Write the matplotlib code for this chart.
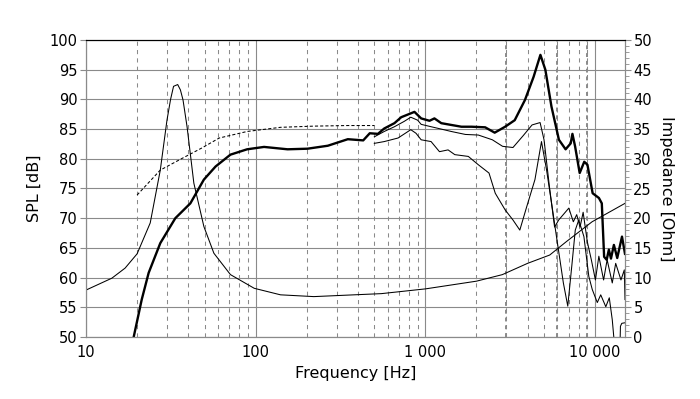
import matplotlib
matplotlib.use('Agg')
import matplotlib.pyplot as plt
from matplotlib.ticker import FixedLocator, NullFormatter, MultipleLocator, LogLocator

# impedance curve [Hz], [Ohm]
f_imp = [10, 14.2, 17, 20, 23.9, 27.4, 30, 31.5, 32.8, 34.7, 36, 37.3, 39.4, 43.2, 49.5, 56.7,
         71, 98, 140, 220, 380, 550, 1000, 2000, 2840, 4000, 5400, 6800, 9600, 15000]
z_imp = [7.9, 9.9, 11.6, 14.0, 19.2, 28.1, 36.5, 40.0, 42.2, 42.5, 41.6, 39.9, 35.4, 25.9, 18.6, 14.1,
         10.5, 8.2, 7.1, 6.8, 7.1, 7.3, 8.1, 9.4, 10.5, 12.4, 13.8, 16.1, 19.4, 22.5]

# simulated / near-field part (dashed)
f_dash = [20, 27.4, 37, 48, 61, 89, 140, 220, 349, 500]
spl_dash = [73.9, 78.1, 80.1, 81.8, 83.5, 84.6, 85.3, 85.5, 85.6, 85.6]

# on-axis SPL (thick)
f_main = [19.1, 21.3, 23.4, 27.4, 33.6, 41.2, 49.5, 58, 71, 89, 112, 154, 202, 266, 349, 430,
          470, 525, 572, 657, 720, 862, 944, 1057, 1130, 1240, 1420, 1630, 1870, 2250, 2560,
          2950, 3360, 3860, 4340, 4760, 5090, 5530, 6120, 6700, 7180, 7350, 7620, 8110, 8630,
          9010, 9670, 10530, 10950, 11300, 11700, 12050, 12400, 12900, 13500, 14400, 15000]
spl_main = [50, 56.3, 60.8, 65.8, 70.0, 72.5, 76.5, 78.7, 80.7, 81.6, 82.0, 81.6, 81.7, 82.2, 83.3, 83.1,
            84.3, 84.2, 85.1, 86.0, 87.0, 87.9, 86.8, 86.4, 86.8, 86.0, 85.7, 85.4, 85.4, 85.3, 84.4,
            85.4, 86.5, 89.9, 93.8, 97.5, 95.0, 88.8, 83.2, 81.6, 82.6, 84.2, 82.1, 77.6, 79.5,
            79.0, 74.2, 73.4, 72.5, 63.5, 63.0, 64.7, 63.2, 65.5, 63.3, 66.9, 64.0]

# off-axis curves (thin)
f_off1 = [500, 572, 657, 750, 820, 900, 944, 1080, 1240, 1420, 1720, 2050, 2480, 2850, 3280,
          3770, 4250, 4740, 5000, 5380, 5770, 6100, 7000, 7440, 7790, 8150, 8500, 9000, 9500,
          10040, 10520, 11220, 11770, 12620, 13220, 14200, 14860, 15000]
spl_off1 = [83.7, 84.6, 85.4, 86.3, 87.0, 86.5, 85.8, 85.4, 85.0, 84.6, 84.1, 84.0, 83.2, 82.1, 81.9,
            83.9, 85.7, 86.1, 83.2, 75.3, 68.5, 69.7, 71.7, 69.4, 70.6, 68.5, 71.0, 66.0, 63.0,
            59.6, 63.6, 59.6, 63.0, 59.1, 62.4, 59.6, 61.3, 56.3]

f_off2 = [500, 572, 690, 820, 880, 944, 1080, 1210, 1360, 1490, 1790, 2050, 2370, 2580, 2950,
          3280, 3600, 3950, 4420, 4830, 5170, 5540, 5920, 6500, 6900, 7290, 7640, 8010, 8590,
          9180, 9620, 10300, 10790, 11560, 12120, 12620, 12930, 13300, 14000, 14100, 14360, 15000]
spl_off2 = [82.6, 82.9, 83.5, 84.9, 84.3, 83.2, 82.9, 81.2, 81.5, 80.7, 80.4, 79.0, 77.6, 74.2, 71.4,
            69.7, 68.0, 71.9, 76.5, 82.9, 78.2, 72.5, 66.9, 59.1, 55.2, 62.0, 68.0, 69.7, 66.9,
            60.2, 58.0, 55.8, 57.1, 55.1, 56.6, 52.9, 49.5, 48.0, 48.0, 51.8, 52.3, 52.4]

x_ticks = [10, 100, 1000, 10000]
x_labels = ['10', '100', '1 000', '10 000']

plt.rcParams['font.family'] = 'DejaVu Sans'
grey = '#8a8a8a'

fig = plt.figure(figsize=(7, 3.99), dpi=100)
ax = fig.add_axes([86/700, 1 - 337/399, (625 - 86)/700, (337 - 40)/399])
ax.set_xscale('log')
ax.set_xlim(10, 15000)
ax.set_ylim(50, 100)

# grid
ax.xaxis.set_major_locator(FixedLocator(x_ticks))
ax.xaxis.set_minor_locator(LogLocator(base=10, subs=range(2, 10), numticks=20))
ax.xaxis.set_minor_formatter(NullFormatter())
ax.set_xticklabels(x_labels)
ax.yaxis.set_major_locator(MultipleLocator(5))
ax.grid(which='major', color=grey, lw=0.8, ls='-')
ax.grid(which='minor', axis='x', color=grey, lw=0.75, ls=(0, (4, 4)))
# these three grid lines are drawn heavier in the original
for f in [3000, 6000, 9000]:
    ax.axvline(f, color=grey, lw=1.4, ls=(0, (2, 2)), zorder=0.5)
ax.set_axisbelow(True)

ax.tick_params(axis='x', which='both', length=0, pad=6, labelsize=10.5)
ax.tick_params(axis='y', length=4, color=grey, pad=2, labelsize=10.5)
for s in ['left', 'bottom', 'right']:
    ax.spines[s].set_color(grey)
ax.spines['top'].set_color('black')

ax.plot(f_dash, spl_dash, color='black', lw=0.75, ls=(0, (3, 2)))
ax.plot(f_off1, spl_off1, color='black', lw=0.75)
ax.plot(f_off2, spl_off2, color='black', lw=0.75)
ax.plot(f_main, spl_main, color='black', lw=1.7)

ax.set_xlabel('Frequency [Hz]', fontsize=11.5, labelpad=4)
ax.set_ylabel('SPL [dB]', fontsize=11.5, labelpad=6)

ax2 = ax.twinx()
ax2.set_ylim(0, 50)
ax2.yaxis.set_major_locator(MultipleLocator(5))
ax2.yaxis.set_minor_locator(MultipleLocator(1))
ax2.tick_params(axis='y', which='major', length=4, color=grey, pad=2, labelsize=10.5)
ax2.tick_params(axis='y', which='minor', length=3, color=grey)
for s in ['left', 'bottom', 'right']:
    ax2.spines[s].set_color(grey)
ax2.spines['top'].set_color('black')
ax2.plot(f_imp, z_imp, color='black', lw=0.75)
ax2.set_ylabel('Impedance [Ohm]', fontsize=11.5, rotation=-90, labelpad=16)

fig.savefig('out.png', dpi=100)
